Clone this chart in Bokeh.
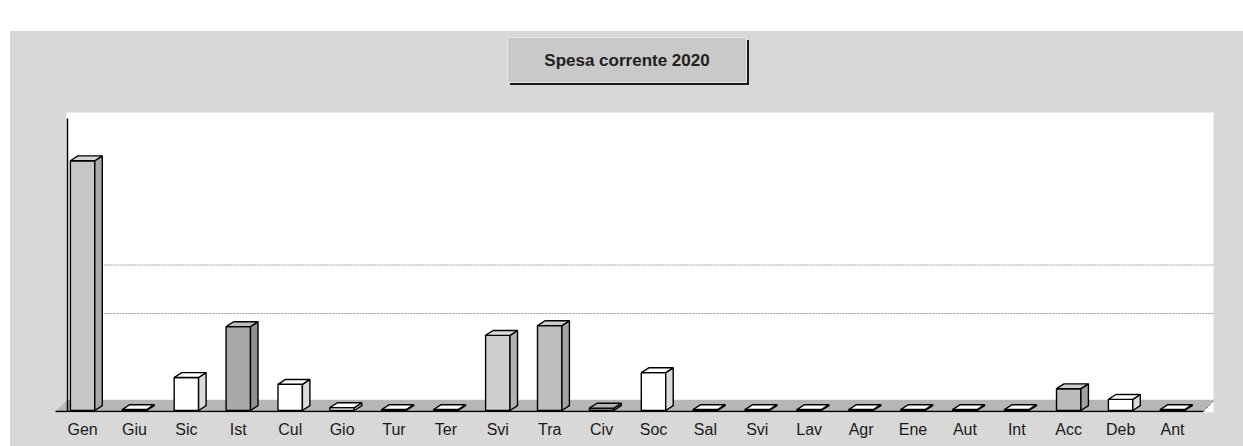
from bokeh.plotting import figure
from bokeh.models import Range1d, FixedTicker, Spacer
from bokeh.layouts import column, row
from bokeh.core.properties import value
from bokeh.embed import file_html
from bokeh.resources import INLINE

# ---------------- data ----------------
categories = ["Gen", "Giu", "Sic", "Ist", "Cul", "Gio", "Tur", "Ter", "Svi", "Tra", "Civ",
              "Soc", "Sal", "Svi", "Lav", "Agr", "Ene", "Aut", "Int", "Acc", "Deb", "Ant"]
values = [5.15, 0.02, 0.68, 1.73, 0.54, 0.06, 0.02, 0.02, 1.55, 1.75, 0.05,
          0.78, 0.02, 0.02, 0.02, 0.02, 0.02, 0.02, 0.02, 0.45, 0.23, 0.02]
title_text = "Spesa corrente 2020"
gridline_levels = [2, 3]

# ---------------- style ----------------
front_colors = ["#c6c6c6", "#ffffff", "#ffffff", "#a9a9a9", "#ffffff", "#ffffff", "#ffffff",
                "#ffffff", "#cfcfcf", "#bdbdbd", "#9a9a9a", "#ffffff", "#ffffff", "#ffffff",
                "#ffffff", "#ffffff", "#ffffff", "#ffffff", "#ffffff", "#bcbcbc", "#ffffff",
                "#ffffff"]
PANEL = "#d8d8d8"
FONT = "Liberation Sans"
BAR_W = 0.47
DX = 0.145
DY = 0.10

# pixel geometry (page coordinates)
FIG_LEFT, FIG_TOP = 10, 31
WALL_L, WALL_R = 66, 1213
FRAME_B = 412
BASE_PX = 410          # baseline (value 0)
PX_PER_UNIT = 48.5
WHITE_TOP_PX = 112


def shade(hex_color, f):
    r, g, b = (int(hex_color[i:i + 2], 16) for i in (1, 3, 5))
    if f < 1:
        r, g, b = (int(c * f) for c in (r, g, b))
    else:
        r, g, b = (int(c + (255 - c) * (f - 1)) for c in (r, g, b))
    return "#%02x%02x%02x" % (r, g, b)


n = len(categories)
xs = list(range(n))
X0, X1 = -0.31, n - 1 + 0.79      # wall extent in data units
SX = (WALL_R - WALL_L) / (X1 - X0)


def ux(px):
    return X0 + (px - WALL_L) / SX


def uy(py):
    return (BASE_PX - py) / PX_PER_UNIT


WHITE_TOP = uy(WHITE_TOP_PX)
Y0 = uy(FRAME_B)

p = figure(width=1243 - FIG_LEFT, height=446 - FIG_TOP, output_backend="svg",
           toolbar_location=None, y_axis_location=None,
           x_range=Range1d(ux(FIG_LEFT), ux(1243)), y_range=Range1d(Y0, uy(FIG_TOP)),
           min_border_left=0, min_border_right=0, min_border_top=0,
           min_border_bottom=446 - FRAME_B)
p.border_fill_color = None
p.background_fill_color = None
p.styles = {"background-color": PANEL}
p.outline_line_color = None
p.xgrid.visible = False
p.ygrid.visible = False

# white plot wall
p.quad(left=[X0], right=[X1], bottom=[Y0], top=[WHITE_TOP], fill_color="white",
       line_color=None)

# gridlines (on the back wall, behind the bars)
p.segment(x0=[X0 + 0.5] * len(gridline_levels), y0=gridline_levels,
          x1=[X1] * len(gridline_levels), y1=gridline_levels,
          line_color="#9c9c9c", line_dash="2 1", line_width=1)

# floor
fy_front, fy_back = uy(411), 0.22
p.patch([ux(55), ux(1203), ux(1214), ux(67)], [fy_front, fy_front, fy_back, fy_back],
        fill_color="#b6b6b6", line_color=None)
p.segment(x0=[ux(55)], y0=[fy_front], x1=[ux(1203)], y1=[fy_front],
          line_color="black", line_width=1.5)
p.segment(x0=[ux(1203)], y0=[fy_front], x1=[ux(1214)], y1=[fy_back],
          line_color="#555555", line_width=1, line_dash="2 2")

# vertical axis line
p.segment(x0=[ux(67)], y0=[fy_front], x1=[ux(67)], y1=[uy(118)], line_color="black",
          line_width=1.5)

# bars: front, side, top faces
lefts = [x - BAR_W / 2 for x in xs]
rights = [x + BAR_W / 2 for x in xs]
p.quad(left=lefts, right=rights, bottom=[0] * n, top=values,
       fill_color=front_colors, line_color="black", line_width=1.4)
side_xs = [[r, r + DX, r + DX, r] for r in rights]
side_ys = [[0, DY, v + DY, v] for v in values]
p.patches(side_xs, side_ys, fill_color=[shade(c, 0.86) for c in front_colors],
          line_color="black", line_width=1.4)
top_xs = [[l, r, r + DX, l + DX] for l, r in zip(lefts, rights)]
top_ys = [[v, v, v + DY, v + DY] for v in values]
p.patches(top_xs, top_ys, fill_color=[shade(c, 1.25) for c in front_colors],
          line_color="black", line_width=1.4)

# x axis labels
p.xaxis.ticker = FixedTicker(ticks=xs)
p.xaxis.major_label_overrides = {i: c for i, c in enumerate(categories)}
p.xaxis.major_label_text_font = FONT
p.xaxis.major_label_text_font_size = "16px"
p.xaxis.major_label_text_color = "#1a1a1a"
p.xaxis.major_label_standoff = 2
p.xaxis.major_tick_line_color = None
p.xaxis.minor_tick_line_color = None
p.xaxis.axis_line_color = None

# title box with shadow
bl, br, bt, bb = ux(507), ux(746), uy(37), uy(82)
sdx, sdy = 2.5 / SX, 2.5 / PX_PER_UNIT
p.quad(left=[bl + sdx], right=[br + sdx], bottom=[bb - sdy], top=[bt - sdy],
       fill_color="#1c1c1c", line_color=None)
p.quad(left=[bl], right=[br], bottom=[bb], top=[bt], fill_color="#c9c9c9",
       line_color="#e6e6e6", line_width=1)
p.text(x=[(bl + br) / 2], y=[(bt + bb) / 2], text=[title_text], text_align="center",
       text_baseline="middle", text_font=value(FONT), text_font_size="17px",
       text_font_style="bold", text_color="#202020")

layout = column(Spacer(width=1243, height=FIG_TOP),
                row(Spacer(width=FIG_LEFT, height=446 - FIG_TOP), p))
open("out.html", "w").write(file_html(layout, INLINE))
